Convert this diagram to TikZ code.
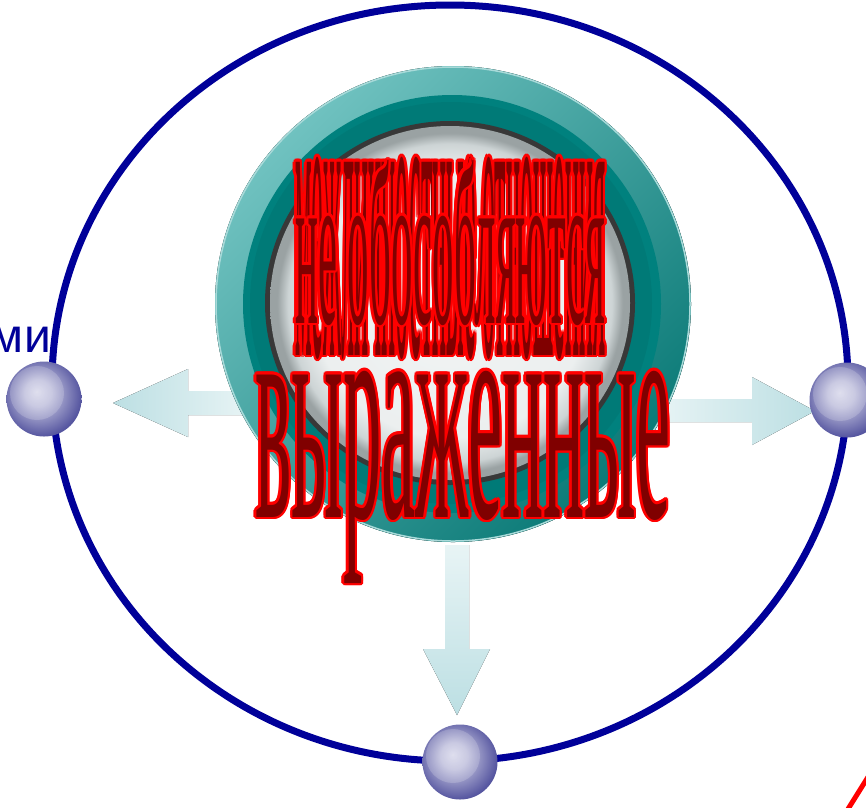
\documentclass[tikz,border=0pt]{standalone}
\usepackage{fontspec}
\setmainfont{Liberation Serif}
\newfontfamily\labelfont{Liberation Sans}
\usetikzlibrary{calc}

\definecolor{orbitblue}{HTML}{000099}
\definecolor{tealrim}{HTML}{70C2C0}
\definecolor{tealdeep}{HTML}{0B7A77}
\definecolor{tealband}{HTML}{00817E}
\definecolor{glassgrey}{HTML}{9AA2A3}
\definecolor{glasslight}{HTML}{CDD4D5}
\definecolor{glasswhite}{HTML}{F1F4F4}
\definecolor{arrowdark}{HTML}{BCDFE3}
\definecolor{arrowpale}{HTML}{E8F4F5}
\definecolor{ballrim}{HTML}{5656A0}
\definecolor{ballcore}{HTML}{D8D8EB}
\definecolor{wordfill}{HTML}{800000}

\pgfdeclareradialshading{glass}{\pgfpoint{0bp}{0bp}}{color(0bp)=(glasswhite); color(19bp)=(glasswhite!94!glassgrey); color(22.5bp)=(glasslight); color(24bp)=(glassgrey); color(25bp)=(glassgrey); color(50bp)=(glassgrey)}
\pgfdeclareradialshading{orb}{\pgfpoint{-5bp}{5bp}}{color(0bp)=(ballcore); color(9bp)=(ballcore!80!ballrim); color(27bp)=(ballrim); color(50bp)=(ballrim)}

\tikzset{
  ball/.style={circle, minimum size=75pt, inner sep=0pt, shading=orb,
    path picture={\fill[white, opacity=.18]
      ([xshift=-7pt, yshift=6pt]path picture bounding box.center) circle (27pt);}},
  word/.style={inner sep=0pt, anchor=base west},
  blockarrow/.style={draw=none}
}

% dark red word with a red rim
\newcommand{\redword}[5]{%
  \foreach \ang in {0,30,...,330}
    \node[word, text=red] at ($(#2)+(\ang:2.4)$) {\resizebox{#3}{#4}{#5}};
  \node[word, text=wordfill] (#1) at (#2) {\resizebox{#3}{#4}{#5}};
}

\begin{document}
\begin{tikzpicture}[x=1pt, y=-1pt]
\useasboundingbox (0,0) rectangle (866,807);

% orbit
\draw[orbitblue, line width=7pt] (450,383) ellipse (398 and 378);

% arrows
\fill[blockarrow, left color=arrowdark, right color=arrowpale]
  (113,403) -- (188,369) -- (188,391) -- (250,391) -- (250,415)
  -- (188,415) -- (188,437) -- cycle; % left
\fill[blockarrow, left color=arrowpale, right color=arrowdark]
  (815,411) -- (752,377) -- (752,399) -- (655,399) -- (655,422)
  -- (752,422) -- (752,445) -- cycle; % right
\fill[blockarrow, top color=arrowpale, bottom color=arrowdark]
  (445,545) -- (469,545) -- (469,649) -- (490,649) -- (457,715)
  -- (423,649) -- (445,649) -- cycle; % down

% teal ring
\fill[top color=tealrim, bottom color=tealdeep, shading angle=45] (453,304) circle (238);
\draw[tealrim!60!white, line width=1.5pt] (453,304) circle (237);
\fill[tealband] (452,304) circle (209);
\fill[tealband!90!black, opacity=.5] (451,303) circle (201);
\fill[black!78] (450,303) ellipse (185 and 182);
\shade[shading=glass] (450,303) ellipse (180 and 177);

% balls on the orbit
\node[ball] (leftball) at (44,399) {};
\node[ball] (rightball) at (847,400) {};
\node[ball] (bottomball) at (460,762) {};

% words
\redword{relations}{295,355}{310pt}{198pt}{межличностные отношения}
\redword{separate}{295,323}{310pt}{163pt}{не обособляются}
\redword{expressed}{255,517}{415pt}{146pt}{выраженные}

\node[inner sep=0pt, anchor=base east, text=orbitblue, font=\labelfont\fontsize{48}{48}\selectfont]
  (cutword) at (51,352) {ми};

\coordinate (slashlow) at (848,809);
\coordinate (slashhigh) at (868,777);
\draw[red, line width=5pt] (slashlow) -- (slashhigh);
\end{tikzpicture}
\end{document}
